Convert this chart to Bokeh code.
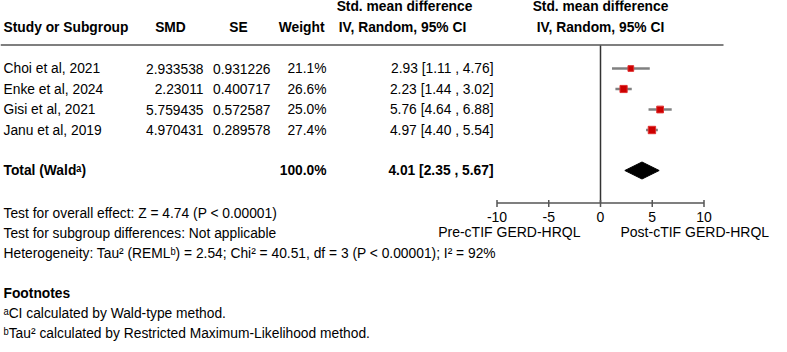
from bokeh.plotting import figure
from bokeh.models import Range1d, ColumnDataSource
from bokeh.core.properties import value
from bokeh.embed import file_html
from bokeh.resources import INLINE

# ---- data ----
studies = ["Choi et al, 2021", "Enke et al, 2024", "Gisi et al, 2021", "Janu et al, 2019"]
smd_txt = ["2.933538", "2.23011", "5.759435", "4.970431"]
se_txt = ["0.931226", "0.400717", "0.572587", "0.289578"]
weights = [21.1, 26.6, 25.0, 27.4]
est = [2.93, 2.23, 5.76, 4.97]
lower = [1.11, 1.44, 4.64, 4.40]
upper = [4.76, 3.02, 6.88, 5.54]
total_est = 4.01
total_lower = 2.35
total_upper = 5.67
total_weight = 100.0
tick_values = [-10, -5, 0, 5, 10]
tick_labels = ["-10", "-5", "0", "5", "10"]
left_label = "Pre-cTIF GERD-HRQL"
right_label = "Post-cTIF GERD-HRQL"
stats_lines = [
    "Test for overall effect: Z = 4.74 (P < 0.00001)",
    "Test for subgroup differences: Not applicable",
    "Heterogeneity: Tau\u00b2 (REML\u1d47) = 2.54; Chi\u00b2 = 40.51, df = 3 (P < 0.00001); I\u00b2 = 92%",
]
footnotes = [
    "\u1d43CI calculated by Wald-type method.",
    "\u1d47Tau\u00b2 calculated by Restricted Maximum-Likelihood method.",
]

# ---- layout ----
W, H = 787, 352
FONT = value("Liberation Sans")
FS = "13.8px"
zero_px = 600.0
px_per_unit = 10.35
row_y0 = 68.0
row_step = 20.5
total_y = 170.0
axis_y = 202.5

p = figure(width=W, height=H, output_backend="svg", toolbar_location=None,
           x_range=Range1d(0, W), y_range=Range1d(H, 0), min_border=0,
           outline_line_color=None)
p.axis.visible = False
p.grid.visible = False
p.extra_x_ranges = {"smd": Range1d((0 - zero_px) / px_per_unit, (W - zero_px) / px_per_unit)}

def txt(x, y, t, align="left", bold=False, size=FS, color="#000000"):
    p.text(x=[x], y=[y], text=[t], text_font=FONT, text_font_size=size,
           text_align=align, text_baseline="middle", text_color=color,
           text_font_style="bold" if bold else "normal")

# headers
hy1, hy2 = 6, 27
txt(3, hy2, "Study or Subgroup", bold=True)
txt(170, hy2, "SMD", align="center", bold=True)
txt(238, hy2, "SE", align="center", bold=True)
txt(324, hy2, "Weight", align="right", bold=True)
txt(404, hy1, "Std. mean difference", align="center", bold=True)
txt(402, hy2, "IV, Random, 95% CI", align="center", bold=True)
txt(600, hy1, "Std. mean difference", align="center", bold=True)
txt(600, hy2, "IV, Random, 95% CI", align="center", bold=True)
p.segment(x0=[0], x1=[723], y0=[44.5], y1=[44.5], line_color="#7f7f7f", line_width=2)

# study rows
ys = [row_y0 + i * row_step for i in range(len(studies))]
src = ColumnDataSource(dict(
    y=ys, study=studies, smd=smd_txt, se=se_txt,
    w=[f"{w:.1f}%" for w in weights],
    ci=[f"{e:.2f} [{l:.2f} , {u:.2f}]" for e, l, u in zip(est, lower, upper)],
    est=est, lo=lower, hi=upper,
    msize=[w * 0.27 for w in weights],
))
common = dict(text_font=FONT, text_font_size=FS, text_baseline="middle", source=src)
p.text(x=3, y="y", text="study", text_align="left", **common)
p.text(x=203, y="y", text="smd", text_align="right", **common)
p.text(x=270, y="y", text="se", text_align="right", **common)
p.text(x=326, y="y", text="w", text_align="right", **common)
p.text(x=493, y="y", text="ci", text_align="right", **common)

# vertical null line
p.segment(x0=[0], x1=[0], y0=[45], y1=[axis_y], line_color="#333333", line_width=1.5,
          x_range_name="smd")

# CIs and markers
p.segment(x0="lo", x1="hi", y0="y", y1="y", line_color="#808080", line_width=2.5,
          source=src, x_range_name="smd")
p.scatter(x="est", y="y", size="msize", marker="square", fill_color="#cc0000",
          line_color="#e03030", line_width=1, source=src, x_range_name="smd")

# total row
txt(3, total_y, "Total (Wald\u1d43)", bold=True)
txt(326, total_y, f"{total_weight:.1f}%", align="right", bold=True)
txt(493, total_y, f"{total_est:.2f} [{total_lower:.2f} , {total_upper:.2f}]", align="right", bold=True)
p.patch(x=[total_lower, total_est, total_upper, total_est],
        y=[total_y, total_y - 8.5, total_y, total_y + 8.5],
        fill_color="#000000", line_color="#000000", x_range_name="smd")

# axis
p.segment(x0=[tick_values[0]], x1=[tick_values[-1]], y0=[axis_y], y1=[axis_y],
          line_color="#555555", line_width=1.5, x_range_name="smd")
p.segment(x0=tick_values, x1=tick_values, y0=[axis_y - 3] * len(tick_values),
          y1=[axis_y + 4] * len(tick_values), line_color="#555555", line_width=1.5,
          x_range_name="smd")
p.text(x=tick_values, y=[216.5] * len(tick_values), text=tick_labels, text_font=FONT,
       text_font_size="14px", text_align="center", text_baseline="middle",
       x_range_name="smd")
txt(580, 231, left_label, align="right", size="14px")
txt(620, 231, right_label, align="left", size="14px")

# stats lines
for i, s in enumerate(stats_lines):
    txt(3, 212.5 + i * 20, s)

txt(3, 293, "Footnotes", bold=True)
for i, s in enumerate(footnotes):
    txt(3, 313 + i * 20, s)

open("out.html", "w").write(file_html(p, INLINE))
